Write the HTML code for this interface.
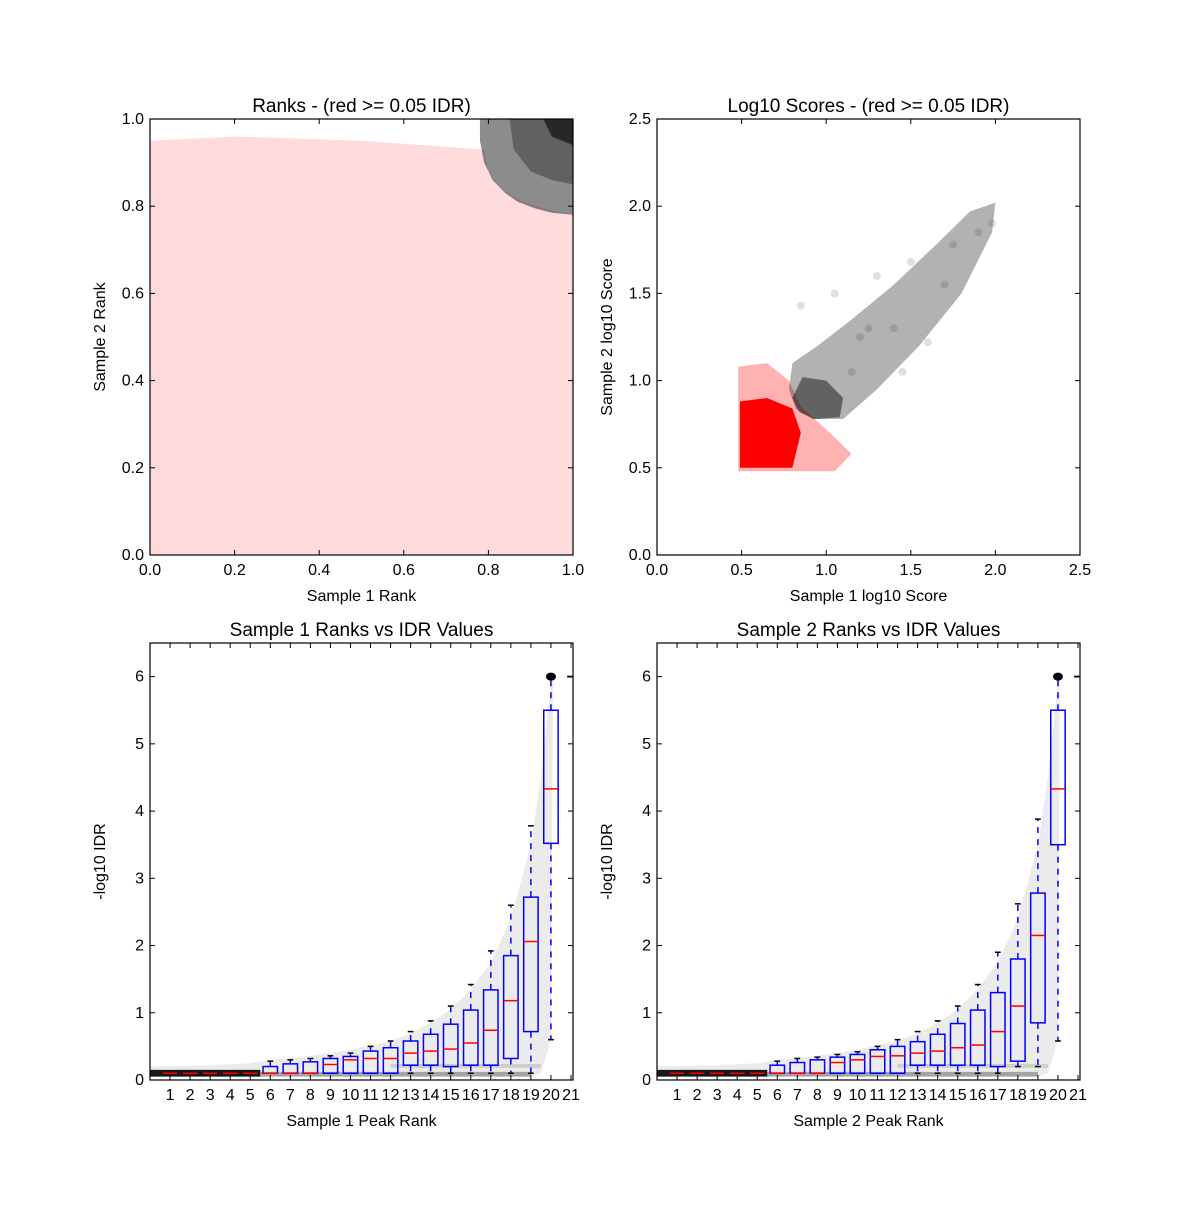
<!DOCTYPE html>
<html><head><meta charset="utf-8"><style>
body{margin:0;background:#fff}
svg text{font-family:"Liberation Sans","DejaVu Sans",sans-serif;fill:#000}
</style></head><body>
<svg id="c" width="1200" height="1200" viewBox="0 0 1200 1200"></svg>
<script>
// ---------- data ----------
const rankTicks=[0,0.2,0.4,0.6,0.8,1.0];
const rankTickLabels=["0.0","0.2","0.4","0.6","0.8","1.0"];
const scoreTicks=[0,0.5,1.0,1.5,2.0,2.5];
const scoreTickLabels=["0.0","0.5","1.0","1.5","2.0","2.5"];
const idrTicks=[0,1,2,3,4,5,6];
const binLabels=["1","2","3","4","5","6","7","8","9","10","11","12","13","14","15","16","17","18","19","20","21"];
// top-left regions (rank units)
const redRankRegion=[[0,0],[1,0],[1,0.78],[0.95,0.79],[0.88,0.81],[0.83,0.84],[0.8,0.88],[0.79,0.93],[0.5,0.95],[0.2,0.96],[0,0.95]];
const blackRankRegion=[[0.78,1],[0.78,0.95],[0.79,0.9],[0.81,0.86],[0.84,0.83],[0.87,0.81],[0.91,0.795],[0.95,0.785],[1,0.78],[1,1]];
const blackRankMid=[[0.85,1],[0.86,0.93],[0.9,0.88],[0.95,0.86],[1,0.85],[1,1]];
const blackRankCore=[[0.93,1],[0.95,0.96],[1,0.94],[1,1]];
// top-right regions (log10 score units)
const redScoreHalo=[[0.48,0.48],[1.05,0.48],[1.15,0.58],[1.0,0.72],[0.85,0.85],[0.78,1.0],[0.65,1.1],[0.48,1.08]];
const redScoreCore=[[0.49,0.5],[0.8,0.5],[0.85,0.7],[0.8,0.84],[0.65,0.9],[0.49,0.88]];
const blackScoreRegion=[[0.78,0.95],[0.82,0.84],[0.92,0.78],[1.1,0.78],[1.3,0.95],[1.55,1.2],[1.8,1.5],[1.98,1.85],[2.0,2.02],[1.85,1.97],[1.65,1.78],[1.4,1.55],[1.15,1.35],[0.95,1.2],[0.8,1.1]];
const blackScoreCore=[[0.8,0.9],[0.84,0.82],[0.93,0.78],[1.08,0.79],[1.1,0.9],[1.0,1.0],[0.86,1.02]];
const blackScoreDotsX=[1.05,1.25,1.45,1.6,1.75,1.9,1.98,1.3,1.15,1.5,0.85,1.7,1.4,1.2];
const blackScoreDotsY=[1.5,1.3,1.05,1.22,1.78,1.85,1.9,1.6,1.05,1.68,1.43,1.55,1.3,1.25];
// bottom haze envelopes
const hazeX=[0,3,5,6,8,10,12,13,14,15,16,17,18,19,19.5,20,20.1];
const hazeUpper=[0.2,0.22,0.25,0.3,0.36,0.45,0.58,0.7,0.85,1.05,1.35,1.75,2.4,3.5,4.5,5.9,6.05];
const hazeLower=[0.05,0.05,0.05,0.05,0.05,0.05,0.05,0.05,0.05,0.05,0.05,0.05,0.05,0.05,0.1,0.6,5.9];
// box stats: q1, median, q3, low whisker, high whisker
const s1Q1=[0.1,0.1,0.1,0.1,0.1,0.1,0.1,0.1,0.1,0.1,0.1,0.1,0.22,0.22,0.2,0.22,0.22,0.32,0.72,3.52];
const s1Med=[0.1,0.1,0.1,0.1,0.1,0.1,0.1,0.1,0.23,0.3,0.32,0.32,0.4,0.43,0.46,0.55,0.74,1.18,2.06,4.33];
const s1Q3=[0.1,0.1,0.1,0.1,0.1,0.2,0.24,0.27,0.32,0.35,0.43,0.48,0.58,0.68,0.83,1.04,1.34,1.85,2.72,5.5];
const s1Lo=[0.1,0.1,0.1,0.1,0.1,0.1,0.1,0.1,0.1,0.1,0.1,0.1,0.1,0.1,0.1,0.1,0.1,0.1,0.1,0.6];
const s1Hi=[0.1,0.1,0.1,0.1,0.1,0.28,0.3,0.32,0.36,0.4,0.5,0.58,0.72,0.88,1.1,1.42,1.92,2.6,3.78,6.0];
const s2Q1=[0.1,0.1,0.1,0.1,0.1,0.1,0.1,0.1,0.1,0.1,0.1,0.1,0.22,0.22,0.22,0.22,0.2,0.28,0.85,3.5];
const s2Med=[0.1,0.1,0.1,0.1,0.1,0.1,0.1,0.1,0.26,0.3,0.35,0.36,0.4,0.43,0.48,0.52,0.72,1.1,2.15,4.33];
const s2Q3=[0.1,0.1,0.1,0.1,0.1,0.22,0.26,0.3,0.34,0.38,0.45,0.5,0.57,0.68,0.84,1.04,1.3,1.8,2.78,5.5];
const s2Lo=[0.1,0.1,0.1,0.1,0.1,0.1,0.1,0.1,0.1,0.1,0.1,0.1,0.1,0.1,0.1,0.1,0.1,0.2,0.2,0.58];
const s2Hi=[0.1,0.1,0.1,0.1,0.1,0.28,0.32,0.34,0.38,0.42,0.5,0.6,0.72,0.88,1.1,1.42,1.9,2.62,3.88,6.0];

// ---------- drawing ----------
const NS="http://www.w3.org/2000/svg";
const svg=document.getElementById('c');
function mk(tag,attrs,parent){const e=document.createElementNS(NS,tag);for(const k in attrs)e.setAttribute(k,attrs[k]);(parent||svg).appendChild(e);return e;}
function axis(x0,x1,y0,y1,xmin,xmax,ymin,ymax){return{sx:v=>x0+(v-xmin)/(xmax-xmin)*(x1-x0),sy:v=>y1-(v-ymin)/(ymax-ymin)*(y1-y0),x0,x1,y0,y1};}
function poly(ax,pts,fill,name,g){const p=mk('polygon',{points:pts.map(q=>ax.sx(q[0])+','+ax.sy(q[1])).join(' '),fill:fill},g);

return p;}
function frame(ax,xt,xl,yt,yl,title,xlab,ylab,prefix){
 const g=mk('g',{});
 
 
 mk('rect',{x:ax.x0,y:ax.y0,width:ax.x1-ax.x0,height:ax.y1-ax.y0,fill:'none',stroke:'#000','stroke-width':1.2},g);
 xt.forEach((v,i)=>{const x=ax.sx(v);mk('line',{x1:x,x2:x,y1:ax.y1,y2:ax.y1-5,stroke:'#000'},g);mk('line',{x1:x,x2:x,y1:ax.y0,y2:ax.y0+5,stroke:'#000'},g);
  const t=mk('text',{x:x,y:ax.y1+20,'font-size':16,'text-anchor':'middle'},g);t.textContent=xl[i];
  
  });
 yt.forEach((v,i)=>{const y=ax.sy(v);mk('line',{x1:ax.x0,x2:ax.x0+5,y1:y,y2:y,stroke:'#000'},g);mk('line',{x1:ax.x1,x2:ax.x1-5,y1:y,y2:y,stroke:'#000'},g);
  const t=mk('text',{x:ax.x0-6,y:y+5,'font-size':16,'text-anchor':'end'},g);t.textContent=yl[i];
  
  });
 const tt=mk('text',{x:(ax.x0+ax.x1)/2,y:ax.y0-7,'font-size':19,'text-anchor':'middle'},g);tt.textContent=title;
 
 
 const xa=mk('text',{x:(ax.x0+ax.x1)/2,y:ax.y1+46,'font-size':16,'text-anchor':'middle'},g);xa.textContent=xlab;
 
 
 const cx=ax.x0-45,cy=(ax.y0+ax.y1)/2;
 const ya=mk('text',{x:cx,y:cy,'font-size':16,'text-anchor':'middle',transform:`rotate(-90 ${cx} ${cy})`},g);ya.textContent=ylab;
 
 
}
// Top-left
const A1=axis(150,573,119,555,0,1,0,1);
poly(A1,redRankRegion,'rgba(255,0,0,0.14)','red-points-region');
poly(A1,blackRankRegion,'rgba(0,0,0,0.45)','black-points-region');
poly(A1,blackRankMid,'rgba(0,0,0,0.3)','black-points-mid');
poly(A1,blackRankCore,'rgba(0,0,0,0.6)','black-points-core');
frame(A1,rankTicks,rankTickLabels,rankTicks,rankTickLabels,'Ranks - (red >= 0.05 IDR)','Sample 1 Rank','Sample 2 Rank','ranks');
// Top-right
const A2=axis(657,1080,119,555,0,2.5,0,2.5);
poly(A2,redScoreHalo,'rgba(255,0,0,0.3)','red-score-halo');
poly(A2,redScoreCore,'rgba(255,0,0,1)','red-score-core');
poly(A2,blackScoreRegion,'rgba(0,0,0,0.3)','black-score-region');
poly(A2,blackScoreCore,'rgba(0,0,0,0.45)','black-score-core');
blackScoreDotsX.forEach((v,i)=>{const c=mk('circle',{cx:A2.sx(v),cy:A2.sy(blackScoreDotsY[i]),r:4,fill:'rgba(0,0,0,0.12)'});
 
 });
frame(A2,scoreTicks,scoreTickLabels,scoreTicks,scoreTickLabels,'Log10 Scores - (red >= 0.05 IDR)','Sample 1 log10 Score','Sample 2 log10 Score','scores');
// Bottom
function boxPanel(x0,q1,med,q3,lo,hi,n){
 const A=axis(x0,x0+423,643,1080,0,21.1,0,6.5);
 const hp=hazeX.map((v,i)=>[v,hazeUpper[i]]).concat(hazeX.map((v,i)=>[v,hazeLower[i]]).reverse());
 poly(A,hp,'rgba(0,0,0,0.08)','idr-haze-'+n);
 poly(A,[[0,0.05],[5.5,0.05],[5.5,0.15],[0,0.15]],'rgba(0,0,0,0.9)','idr-dense-band-'+n);
 poly(A,[[5.5,0.05],[19,0.05],[19,0.12],[5.5,0.12]],'rgba(0,0,0,0.3)','idr-low-band-'+n);
 poly(A,[[12,0.18],[19.5,0.18],[19.5,0.24],[12,0.24]],'rgba(0,0,0,0.12)','idr-mid-band-'+n);
 const dot=mk('ellipse',{cx:A.sx(20),cy:A.sy(6),rx:5,ry:4,fill:'#000'});
 
 
 const hw=0.36;
 q1.forEach((v,i)=>{const c=i+1;const g=mk('g',{});
  
  
  const x=A.sx(c);
  if(hi[i]>q3[i]){
  mk('line',{x1:x,x2:x,y1:A.sy(q3[i]),y2:A.sy(hi[i]),stroke:'#00f','stroke-dasharray':'6,6','stroke-width':1.5},g);
  mk('line',{x1:A.sx(c-hw*0.4),x2:A.sx(c+hw*0.4),y1:A.sy(hi[i]),y2:A.sy(hi[i]),stroke:'#000','stroke-width':1.5},g);}
  if(lo[i]<q1[i]){
  mk('line',{x1:x,x2:x,y1:A.sy(q1[i]),y2:A.sy(lo[i]),stroke:'#00f','stroke-dasharray':'6,6','stroke-width':1.5},g);
  mk('line',{x1:A.sx(c-hw*0.4),x2:A.sx(c+hw*0.4),y1:A.sy(lo[i]),y2:A.sy(lo[i]),stroke:'#000','stroke-width':1.5},g);}
  if(q3[i]>q1[i])
  mk('rect',{x:A.sx(c-hw),y:A.sy(q3[i]),width:A.sx(c+hw)-A.sx(c-hw),height:A.sy(q1[i])-A.sy(q3[i]),fill:'none',stroke:'#00f','stroke-width':1.5},g);
  mk('line',{x1:A.sx(c-hw),x2:A.sx(c+hw),y1:A.sy(med[i]),y2:A.sy(med[i]),stroke:'#f00','stroke-width':1.5},g);
 });
 const m=mk('line',{x1:A.sx(20.8),x2:A.sx(21.1),y1:A.sy(6),y2:A.sy(6),stroke:'#707','stroke-width':2});
 
 
 frame(A,binLabels.map((_,i)=>i+1),binLabels,idrTicks,idrTicks.map(String),
  'Sample '+n+' Ranks vs IDR Values','Sample '+n+' Peak Rank','-log10 IDR','idr-'+n);
}
boxPanel(150,s1Q1,s1Med,s1Q3,s1Lo,s1Hi,1);
boxPanel(657,s2Q1,s2Med,s2Q3,s2Lo,s2Hi,2);
</script>
</body></html>
